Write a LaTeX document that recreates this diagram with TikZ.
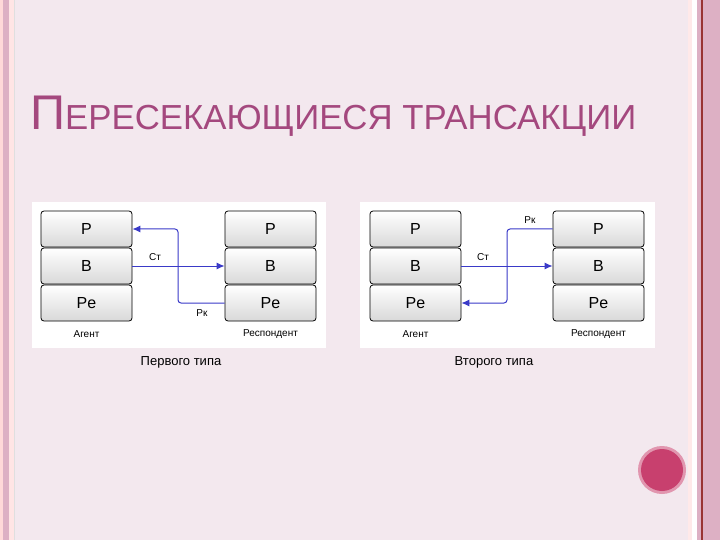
\documentclass[tikz,border=0pt]{standalone}
\usepackage{fontspec}
\setmainfont{Liberation Sans}
\usetikzlibrary{arrows.meta}
\definecolor{bg}{HTML}{F3E8EE}
\definecolor{stripe}{HTML}{DDB0C4}
\definecolor{ttl}{HTML}{A4487E}
\definecolor{arr}{HTML}{3A3AC8}
\definecolor{dot}{HTML}{C8406E}
\begin{document}
\begin{tikzpicture}[x=1pt,y=-1pt,
  blk/.style={draw=black,line width=0.8pt,rounded corners=3pt,top color=white,bottom color=gray!30,minimum width=91pt,minimum height=36pt,inner sep=0pt,font=\fontsize{16}{16}\selectfont},
  lbl/.style={font=\fontsize{10}{10}\selectfont},
  captext/.style={font=\fontsize{13}{13}\selectfont},
  con/.style={draw=arr,line width=1pt,rounded corners=3pt},
  tip/.style={-{Latex[length=8pt,width=7pt]}}]
\useasboundingbox (0,0) rectangle (720,540);
\fill[bg] (0,0) rectangle (720,540);
% left stripes
\fill[pink!60] (0,0) rectangle (3,540);
\fill[stripe] (3,0) rectangle (9,540);
\fill[pink!40] (9,0) rectangle (14,540);
\fill[gray!25] (14,0) rectangle (15,540);
% right stripes
\fill[pink!35] (688,0) rectangle (692,540);
\fill[white] (692,0) rectangle (697,540);
\fill[stripe] (697,0) rectangle (701,540);
\fill[red!50!black!80] (701,0) rectangle (702.5,540);
\fill[stripe] (702.5,0) rectangle (720,540);
% title
\node[anchor=base west,inner sep=0pt,text=ttl] (title) at (30,130) {\resizebox{606pt}{!}{\fontsize{42}{42}\selectfont П\fontsize{30}{30}\selectfont ЕРЕСЕКАЮЩИЕСЯ ТРАНСАКЦИИ}};
% panels
\fill[white] (32,202) rectangle (326,348);
\fill[white] (360,202) rectangle (655,348);
% left diagram
\node[blk] (aP) at (86.5,229) {P};
\node[blk] (aB) at (86.5,266) {B};
\node[blk] (aR) at (86.5,303) {Pe};
\node[blk] (rP) at (270.5,229) {P};
\node[blk] (rB) at (270.5,266) {B};
\node[blk] (rR) at (270.5,303) {Pe};
\node[lbl] (ag1) at (86.5,334) {Агент};
\node[lbl] (rs1) at (270.5,334) {Респондент};
\draw[con,tip] (aB.east) -- (rB.west);
\draw[con,tip] (rR.west) -- (178,303) -- (178,229) -- (aP.east);
\node[lbl] (st1) at (155,257) {Ст};
\node[lbl] (rk1) at (202,313) {Рк};
% right diagram
\node[blk] (bP) at (415.5,229) {P};
\node[blk] (bB) at (415.5,266) {B};
\node[blk] (bR) at (415.5,303) {Pe};
\node[blk] (sP) at (598.5,229) {P};
\node[blk] (sB) at (598.5,266) {B};
\node[blk] (sR) at (598.5,303) {Pe};
\node[lbl] (ag2) at (415.5,334) {Агент};
\node[lbl] (rs2) at (598.5,334) {Респондент};
\draw[con,tip] (bB.east) -- (sB.west);
\draw[con,tip] (sP.west) -- (507,229) -- (507,303) -- (bR.east);
\node[lbl] (st2) at (483,257) {Ст};
\node[lbl] (rk2) at (530,220) {Рк};
% captions
\node[captext] (c1) at (181,362) {Первого типа};
\node[captext] (c2) at (494,362) {Второго типа};
% dot
\fill[dot!55] (662,470) circle (24);
\fill[dot] (662,470) circle (21);
\end{tikzpicture}
\end{document}
